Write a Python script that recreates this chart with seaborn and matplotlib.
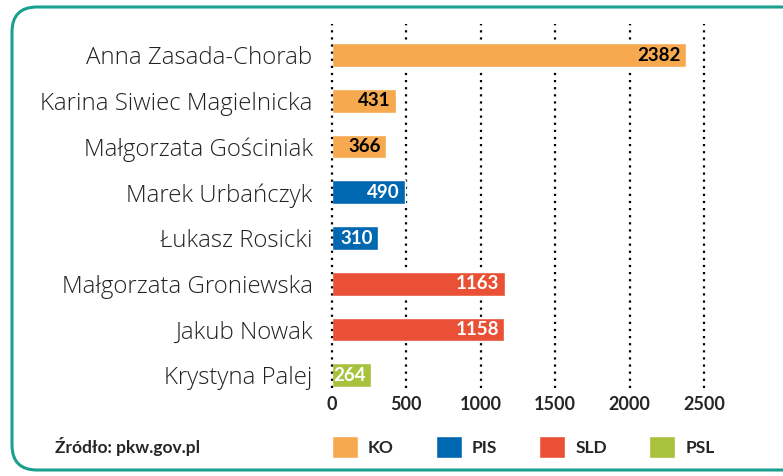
import matplotlib
matplotlib.use("Agg")
import matplotlib.pyplot as plt
import seaborn as sns
import pandas as pd
from matplotlib.patches import Patch, FancyBboxPatch

# dane
names = ["Anna Zasada-Chorab", "Karina Siwiec Magielnicka", "Małgorzata Gościniak",
         "Marek Urbańczyk", "Łukasz Rosicki", "Małgorzata Groniewska",
         "Jakub Nowak", "Krystyna Palej"]
votes = [2382, 431, 366, 490, 310, 1163, 1158, 264]
party = ["KO", "KO", "KO", "PIS", "PIS", "SLD", "SLD", "PSL"]
parties = ["KO", "PIS", "SLD", "PSL"]
colors = {"KO": "#F6A94F", "PIS": "#0067B1", "SLD": "#E95035", "PSL": "#A8C23D"}
label_color = {"KO": "black", "PIS": "white", "SLD": "white", "PSL": "white"}
xticks = [0, 500, 1000, 1500, 2000, 2500]

df = pd.DataFrame({"name": names, "votes": votes, "party": party})

sns.set_theme(style="white")
plt.rcParams["font.family"] = ["Lato", "DejaVu Sans"]

fig = plt.figure(figsize=(7.83, 4.76), dpi=100)
ax = fig.add_axes([332 / 783, 1 - 388 / 476, 372 / 783, 364 / 476])

sns.barplot(data=df, y="name", x="votes", hue="party", palette=colors,
            dodge=False, width=0.52, saturation=1, legend=False, ax=ax, zorder=2)

ax.set_xlim(0, 2500)
ax.set_ylim(7.28, -0.68)
ax.set_xticks(xticks)
ax.set_xticklabels([str(t) for t in xticks], fontsize=13, fontweight="bold")
ax.tick_params(axis="x", length=0, pad=6)
ax.tick_params(axis="y", length=0, pad=14)
ax.set_yticks(range(len(names)))
ax.set_yticklabels(names, fontsize=17.3, fontweight=300, color="#222222",
                   family=["Open Sans", "DejaVu Sans"])
ax.set_xlabel("")
ax.set_ylabel("")
for s in ax.spines.values():
    s.set_visible(False)

# siatka kropkowana
for t in xticks:
    ax.axvline(t, color="black", linestyle=(0, (1, 2.2)), linewidth=1.6,
               zorder=3 if t == 0 else 1, clip_on=False)

# wartości na słupkach
for i, (v, p) in enumerate(zip(votes, party)):
    ax.annotate(str(v), (v, i), xytext=(-4, 0), textcoords="offset points",
                ha="right", va="center", fontsize=13.5, fontweight="bold",
                color=label_color[p], zorder=4)

# legenda
handles = [Patch(facecolor=colors[p], label=p) for p in parties]
fig.legend(handles=handles, loc="center left", ncol=4, frameon=False,
           bbox_to_anchor=(316 / 783, 1 - 447 / 476),
           handlelength=1.5, handleheight=1.6, handletextpad=0.6,
           columnspacing=2.4, prop={"weight": "bold", "size": 12.5})

fig.text(55 / 783, 1 - 447 / 476, "Źródło: pkw.gov.pl", fontsize=12.5,
         fontweight="bold", va="center", ha="left")

# ramka
frame = FancyBboxPatch((0.12, 0.06), 8.0, 4.63, boxstyle="round,pad=0,rounding_size=0.25",
                       transform=fig.dpi_scale_trans, facecolor="none",
                       edgecolor="#1AA08E", linewidth=2.2, zorder=0)
fig.patches.append(frame)

plt.savefig("out.png", dpi=100)
